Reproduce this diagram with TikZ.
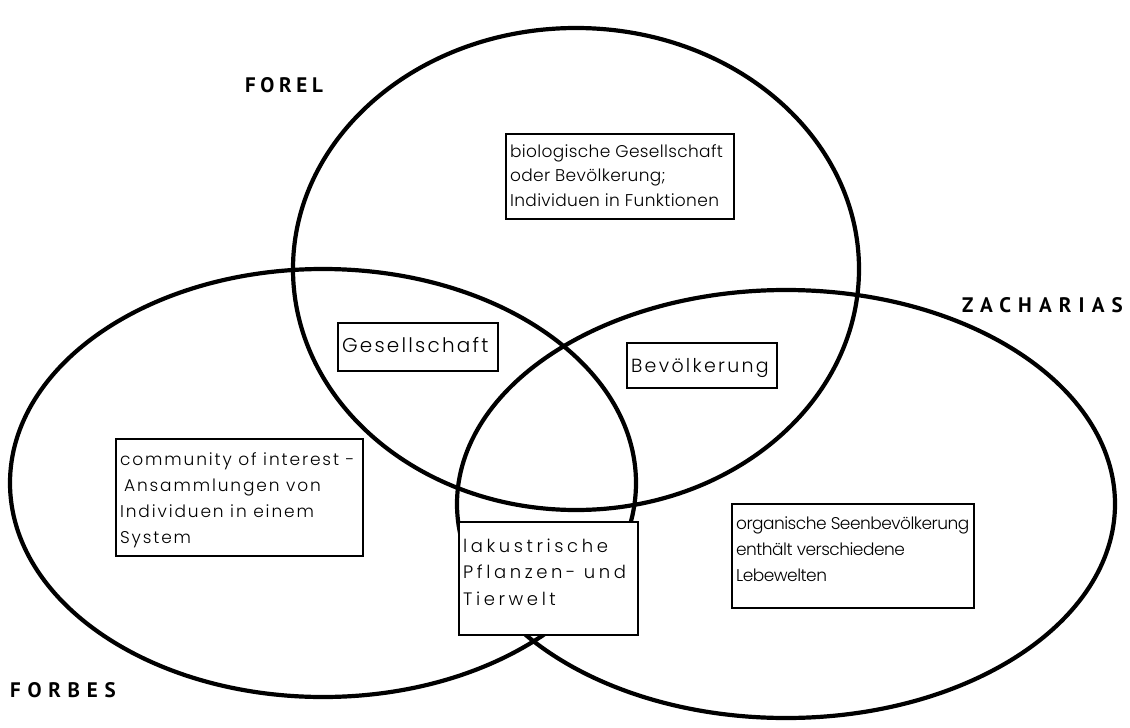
\documentclass[tikz,border=0pt]{standalone}
\usepackage{fontspec}
\setmainfont{Poppins}
\newfontfamily\boxfont{Poppins}[UprightFont=* Light]
\newfontfamily\labelfont{PT Sans}
% a framed text box: width, height, line spacing, first baseline, letter spacing, size, lines
\newcommand\txtlines[7]{\parbox[t][#2][t]{#1}{\boxfont\addfontfeature{LetterSpace=#5}\fontsize{#6}{#3}\selectfont\raggedright\leftskip=4pt\rule{0pt}{#4}#7}}
% a set name with its own letter spacing
\newcommand\setname[2]{{\addfontfeature{LetterSpace=#1}#2}}
\tikzset{
  set/.style={line width=4.2pt},
  textbox/.style={draw, line width=2.2pt, inner sep=0pt, anchor=north west, fill=white},
  setlabel/.style={font=\labelfont\bfseries\fontsize{21}{24}\selectfont, inner sep=0pt, anchor=west}
}
\begin{document}
\begin{tikzpicture}[x=1pt,y=-1pt]
\useasboundingbox (0,0) rectangle (1130,728);
% centres of the three sets
\coordinate (forel) at (576,269);
\coordinate (forbes) at (323,483);
\coordinate (zach) at (786,504);
\draw[set] (forel) ellipse [x radius=283, y radius=241];
\draw[set] (forbes) ellipse [x radius=313, y radius=214];
\draw[set] (zach) ellipse [x radius=329, y radius=214];
% set names
\node[setlabel] (lforel) at (245,85) {\setname{22}{FOREL}};
\node[setlabel] (lzach) at (962,305) {\setname{34}{ZACHARIAS}};
\node[setlabel] (lforbes) at (10,690) {\setname{32}{FORBES}};
% descriptions
\node[textbox] (bio) at (505,133) {\txtlines{228pt}{85pt}{24.5pt}{23pt}{2}{17}{\mbox{biologische Gesellschaft}\\\mbox{oder Bevölkerung;}\\\mbox{Individuen in Funktionen}}};
\node[textbox] (ges) at (337,322) {\txtlines{160pt}{48pt}{26pt}{29pt}{11}{20}{Gesellschaft}};
\node[textbox] (bev) at (626,342) {\txtlines{150pt}{45pt}{26pt}{29pt}{12}{19}{Bevölkerung}};
\node[textbox] (com) at (115,438) {\txtlines{247pt}{117pt}{26pt}{26pt}{11}{17}{\mbox{community of interest -}\\\mbox{\hspace*{4pt}Ansammlungen von}\\\mbox{Individuen in einem}\\System}};
\node[textbox] (lak) at (458,521) {\txtlines{179pt}{113pt}{26.5pt}{30pt}{20}{18}{lakustrische\\\mbox{Pflanzen- und}\\Tierwelt}};
\node[textbox] (org) at (731,503) {\txtlines{242pt}{104pt}{26pt}{25pt}{-3}{17}{\mbox{organische Seenbevölkerung}\\\mbox{enthält verschiedene}\\Lebewelten}};
\end{tikzpicture}
\end{document}
